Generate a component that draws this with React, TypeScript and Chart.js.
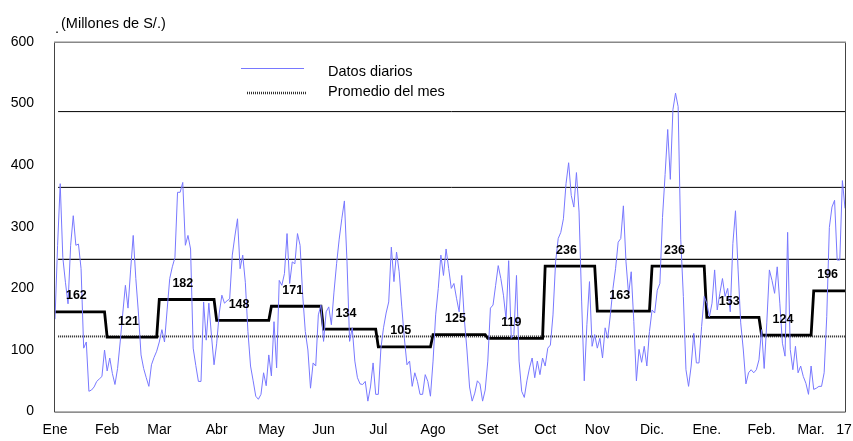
import React, { useEffect, useRef } from 'react';
import { Chart, registerables } from 'chart.js';

Chart.register(...registerables);

const monthLabels = ['Ene', 'Feb', 'Mar', 'Abr', 'May', 'Jun', 'Jul', 'Ago', 'Set', 'Oct', 'Nov', 'Dic.', 'Ene.', 'Feb.', 'Mar.   17'];
const monthDays = [20, 20, 22, 21, 20, 21, 21, 21, 22, 20, 21, 21, 21, 20, 13];
const monthAvg = [162, 121, 182, 148, 171, 134, 105, 125, 119, 236, 163, 236, 153, 124, 196];
const refLines = [122, 247, 364, 487];
const yTicks = [0, 100, 200, 300, 400, 500, 600];

const dailyValues = [
  // Ene
  150, 270, 370, 250, 210, 175, 270, 318, 270, 272, 232, 103, 113, 33, 35, 40, 49, 53, 57, 100,
  // Feb
  66, 87, 62, 44, 70, 113, 160, 205, 168, 230, 286, 216, 160, 92, 70, 55, 41, 76, 88, 98,
  // Mar
  113, 133, 113, 165, 216, 235, 250, 356, 356, 372, 270, 286, 264, 103, 75, 49, 49, 178, 116, 176, 124, 76,
  // Abr
  110, 160, 189, 176, 180, 183, 254, 285, 313, 232, 254, 210, 130, 74, 50, 25, 20, 28, 63, 42, 92,
  // May
  58, 146, 71, 213, 205, 224, 289, 208, 243, 240, 289, 270, 189, 130, 100, 38, 79, 74, 157, 173,
  // Jun
  114, 162, 170, 141, 194, 240, 280, 313, 342, 243, 114, 136, 82, 55, 45, 44, 49, 17, 40, 79, 28,
  // Jul
  28, 103, 136, 160, 178, 267, 211, 259, 227, 170, 119, 76, 82, 41, 63, 49, 28, 28, 60, 49, 25,
  // Ago
  82, 157, 200, 254, 221, 264, 232, 200, 208, 184, 162, 221, 150, 100, 40, 17, 30, 50, 45, 17, 35,
  // Set
  82, 168, 173, 205, 237, 216, 189, 150, 245, 119, 125, 221, 82, 33, 23, 50, 71, 87, 55, 82, 60, 87,
  // Oct
  74, 103, 108, 157, 243, 281, 291, 313, 370, 404, 351, 332, 388, 324, 178, 50, 141, 211, 106, 125,
  // Nov
  103, 119, 87, 136, 119, 157, 200, 232, 275, 281, 334, 243, 190, 227, 146, 50, 101, 80, 106, 74, 130,
  // Dic
  165, 160, 197, 208, 315, 385, 458, 377, 490, 517, 495, 280, 187, 68, 41, 74, 127, 79, 79, 138, 187,
  // Ene. 17
  176, 154, 176, 230, 165, 192, 216, 187, 200, 162, 273, 326, 230, 144, 100, 45, 63, 68, 63, 68, 84,
  // Feb. 17
  133, 70, 144, 230, 213, 192, 235, 176, 111, 90, 291, 101, 68, 106, 63, 74, 57, 46, 28, 74,
  // Mar. 17
  36, 38, 41, 41, 63, 154, 299, 332, 343, 246, 246, 375, 330,
];

const FONT = '"Liberation Sans", Arial, Helvetica, sans-serif';

export default function App() {
  const ref = useRef<HTMLCanvasElement | null>(null);

  useEffect(() => {
    document.body.style.margin = '0';
    document.body.style.overflow = 'hidden';
    const canvas = ref.current;
    if (!canvas) return;

    const monthStarts: number[] = [];
    let acc = 0;
    monthDays.forEach((d) => {
      monthStarts.push(acc);
      acc += d;
    });
    const lastDay = acc - 1;

    const dailyData = dailyValues.map((v, i) => ({ x: i, y: v }));
    const stepData: { x: number; y: number }[] = [];
    monthDays.forEach((d, m) => {
      for (let k = 0; k < d; k++) stepData.push({ x: monthStarts[m] + k, y: monthAvg[m] });
    });

    const refStyles = [
      { color: '#222', width: 2, dash: [1, 1] },
      { color: '#111', width: 1.3, dash: [] },
      { color: '#000', width: 1, dash: [] },
      { color: '#000', width: 1, dash: [] },
    ];

    const refDatasets = refLines.map((v, i) => ({
      label: 'ref' + i,
      data: [
        { x: 1.2, y: v },
        { x: lastDay, y: v },
      ],
      borderColor: refStyles[i].color,
      borderWidth: refStyles[i].width,
      borderDash: refStyles[i].dash,
      pointRadius: 0,
      tension: 0,
      fill: false,
    }));

    const overlay = {
      id: 'overlay',
      beforeDatasetsDraw(chart: any) {
        const { ctx, chartArea: a } = chart;
        ctx.save();
        ctx.lineWidth = 1;
        ctx.strokeStyle = '#444';
        ctx.beginPath();
        ctx.moveTo(a.left - 0.5, a.top);
        ctx.lineTo(a.left - 0.5, a.bottom + 0.5);
        ctx.lineTo(a.right + 0.5, a.bottom + 0.5);
        ctx.lineTo(a.right + 0.5, a.top);
        ctx.stroke();
        ctx.strokeStyle = '#888';
        ctx.lineWidth = 1.5;
        ctx.beginPath();
        ctx.moveTo(a.left - 1, a.top + 0.25);
        ctx.lineTo(a.right + 1, a.top + 0.25);
        ctx.stroke();
        ctx.restore();
      },
      afterDatasetsDraw(chart: any) {
        const { ctx, scales } = chart;
        const xs = scales.x;
        const ys = scales.y;
        ctx.save();
        // month average labels
        ctx.fillStyle = '#000';
        ctx.font = 'bold 12.5px ' + FONT;
        ctx.textAlign = 'center';
        ctx.textBaseline = 'middle';
        monthAvg.forEach((v, m) => {
          const px = xs.getPixelForValue(monthStarts[m] + monthDays[m] * 0.41);
          const py = ys.getPixelForValue(v) - 16;
          ctx.fillText(String(v), px, py);
        });

        // unit title
        ctx.font = '14.5px ' + FONT;
        ctx.textAlign = 'left';
        ctx.textBaseline = 'middle';
        ctx.fillText('(Millones de S/.)', 61, 23.5);
        ctx.textBaseline = 'alphabetic';
        ctx.fillText('.', 55, 33);

        // legend
        ctx.strokeStyle = 'rgb(120,120,255)';
        ctx.lineWidth = 1;
        ctx.setLineDash([]);
        ctx.beginPath();
        ctx.moveTo(241, 68.5);
        ctx.lineTo(304, 68.5);
        ctx.stroke();
        ctx.strokeStyle = '#333';
        ctx.lineWidth = 2.5;
        ctx.setLineDash([1, 1]);
        ctx.beginPath();
        ctx.moveTo(247, 93);
        ctx.lineTo(307, 93);
        ctx.stroke();
        ctx.setLineDash([]);
        ctx.textBaseline = 'middle';
        ctx.fillText('Datos diarios', 328, 72);
        ctx.fillText('Promedio del mes', 328, 92);
        ctx.restore();
      },
    };

    const chart = new Chart(canvas, {
      type: 'line',
      data: {
        datasets: [
          {
            label: 'Datos diarios',
            data: dailyData,
            borderColor: 'rgb(120,120,255)',
            borderWidth: 1,
            pointRadius: 0,
            tension: 0,
            fill: false,
          },
          {
            label: 'Promedio del mes',
            data: stepData,
            borderColor: '#000',
            borderWidth: 2.8,
            pointRadius: 0,
            tension: 0,
            fill: false,
          },
          ...refDatasets,
        ] as any,
      },
      options: {
        animation: false,
        responsive: false,
        devicePixelRatio: 1,
        layout: { padding: { top: 42, right: 8, left: 0, bottom: 0 } },
        plugins: {
          legend: { display: false },
          tooltip: { enabled: false },
          title: { display: false },
        },
        scales: {
          x: {
            type: 'linear',
            min: 0,
            max: lastDay,
            grid: { display: false, drawTicks: false },
            border: { display: false },
            afterBuildTicks: (s: any) => {
              s.ticks = monthStarts.map((v, i) => ({ value: i === monthStarts.length - 1 ? v + 4.2 : v }));
            },
            afterFit: (s: any) => {
              s.height = 27;
              s.paddingLeft = 0;
              s.paddingRight = 0;
            },
            ticks: {
              autoSkip: false,
              maxRotation: 0,
              minRotation: 0,
              padding: 10,
              color: '#000',
              font: { family: FONT, size: 14 },
              callback: (_v: any, i: number) => monthLabels[i],
            },
          },
          y: {
            min: 0,
            max: 600,
            grid: { display: false, drawTicks: false },
            border: { display: false },
            afterBuildTicks: (s: any) => {
              s.ticks = yTicks.map((v) => ({ value: v }));
            },
            afterFit: (s: any) => {
              s.width = 55;
            },
            ticks: {
              padding: 21,
              color: '#000',
              font: { family: FONT, size: 14 },
              callback: (v: any) => String(v),
            },
          },
        },
      } as any,
      plugins: [overlay],
    });

    return () => chart.destroy();
  }, []);

  return (
    <div style={{ width: 853, height: 441 }}>
      <canvas ref={ref} width={853} height={441} style={{ display: 'block' }} />
    </div>
  );
}
